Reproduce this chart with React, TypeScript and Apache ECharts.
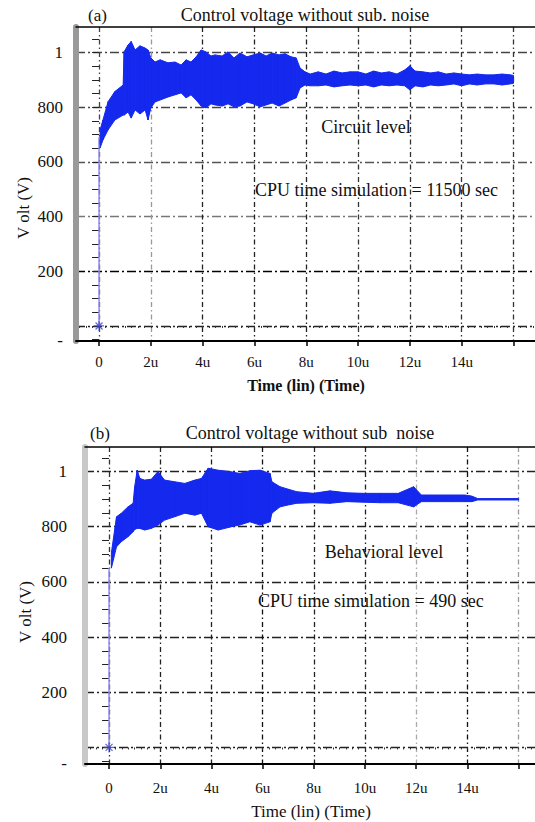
import React, { useEffect, useRef } from "react";
import * as echarts from "echarts";

// ---- axes (time in µs, voltage in mV) ----
const timeGrid = [0, 2, 4, 6, 8, 10, 12, 14, 16];
const timeLabels = [0, 2, 4, 6, 8, 10, 12, 14];
const voltGrid = [0, 200, 400, 600, 800, 1000];
const voltLabels = [200, 400, 600, 800, 1000];

// ---- panel (a): circuit level, noise envelope ----
const aT = [0.04, 0.15, 0.35, 0.61, 0.93, 0.97, 1.12, 1.24, 1.39, 1.58, 1.78, 1.89, 2.0, 2.16, 2.36, 2.66, 2.93, 3.17, 3.36, 3.55, 3.75, 3.94, 4.13, 4.32, 4.48, 4.75, 4.98, 5.21, 5.44, 5.71, 5.95, 6.22, 6.45, 6.68, 6.95, 7.18, 7.41, 7.61, 7.76, 7.95, 8.15, 8.46, 8.76, 9.07, 9.38, 9.69, 10.0, 10.3, 10.6, 10.9, 11.2, 11.5, 11.8, 12.0, 12.2, 12.5, 12.8, 13.1, 13.4, 13.7, 14.0, 14.3, 14.6, 14.9, 15.25, 15.56, 15.87, 16.0];
const aHi = [717, 753, 820, 857, 881, 1003, 1027, 1040, 1009, 1024, 1016, 1009, 980, 965, 973, 962, 965, 954, 973, 965, 984, 1009, 1002, 987, 991, 987, 1002, 980, 998, 984, 991, 998, 987, 998, 991, 995, 984, 980, 943, 929, 921, 929, 921, 932, 925, 929, 929, 921, 932, 925, 929, 921, 936, 951, 932, 929, 925, 929, 921, 925, 921, 918, 921, 918, 918, 921, 918, 916];
const aLo = [651, 680, 717, 753, 771, 771, 782, 760, 790, 775, 790, 753, 797, 819, 826, 837, 845, 852, 834, 845, 826, 804, 797, 812, 808, 804, 812, 801, 804, 819, 812, 801, 808, 815, 804, 815, 826, 834, 870, 881, 878, 878, 881, 874, 878, 881, 878, 881, 874, 881, 878, 881, 878, 863, 878, 874, 881, 878, 881, 885, 878, 885, 881, 885, 885, 881, 885, 887];
const aRiseV = [0, 690];

// ---- panel (b): behavioral level, noise envelope ----
const bT = [0.09, 0.29, 0.48, 0.74, 0.94, 1.0, 1.1, 1.2, 1.39, 1.65, 1.91, 2.17, 2.56, 2.96, 3.35, 3.61, 3.87, 4.26, 4.78, 5.1, 5.5, 5.9, 6.29, 6.36, 6.68, 7.0, 7.33, 7.98, 8.63, 9.28, 9.93, 10.6, 11.3, 11.9, 12.2, 12.8, 13.4, 13.9, 14.17, 14.4, 15.0, 15.5, 16.0];
const bHi = [705, 836, 849, 872, 885, 945, 1005, 975, 969, 972, 1000, 969, 963, 957, 969, 975, 1012, 1005, 999, 993, 1003, 1005, 993, 963, 945, 936, 927, 921, 930, 923, 921, 921, 921, 945, 915, 915, 915, 915, 911, 902, 902, 902, 902];
const bLo = [650, 727, 746, 764, 782, 790, 794, 794, 788, 794, 806, 824, 836, 849, 842, 849, 800, 788, 800, 806, 818, 806, 818, 849, 872, 879, 885, 887, 885, 891, 889, 887, 887, 872, 891, 891, 891, 891, 891, 897, 897, 897, 897];
const bRiseV = [0, 650];

const FONT = "Liberation Serif";
const BLUE = "#1428ee";

function minorValues(min: number, max: number, step: number) {
  const out: number[] = [];
  const start = Math.ceil(min / step) * step;
  for (let v = start; v <= max + 1e-9; v += step) out.push(Math.round(v * 1000) / 1000);
  return out;
}

interface PanelCfg {
  xMin: number; xMax: number; yMin: number; yMax: number;
  barColor: string; labelMargin: number; yLabelMargin: number;
  t: number[]; hi: number[]; lo: number[]; rise: number[];
  hColors: string[]; vColors: string[];
}

const panels: PanelCfg[] = [
  {
    xMin: -0.89, xMax: 16.83, yMin: -55, yMax: 1093,
    barColor: "#9a9a9a", labelMargin: 13, yLabelMargin: 13,
    t: aT, hi: aHi, lo: aLo, rise: aRiseV,
    hColors: ["#222", "#000", "#777", "#555", "#444", "#444"],
    vColors: ["#444", "#999", "#222", "#222", "#222", "#333", "#333", "#333", "#333"],
  },
  {
    xMin: -0.94, xMax: 16.64, yMin: -60, yMax: 1089,
    barColor: "#c8c8c8", labelMargin: 16, yLabelMargin: 18,
    t: bT, hi: bHi, lo: bLo, rise: bRiseV,
    hColors: ["#222", "#222", "#222", "#222", "#222", "#222"],
    vColors: ["#333", "#222", "#222", "#111", "#222", "#222", "#aaa", "#111", "#999"],
  },
];

function bandRenderItem(params: any, api: any) {
  const a = api.coord([api.value(0), api.value(1)]);
  const b = api.coord([api.value(3), api.value(4)]);
  const c = api.coord([api.value(3), api.value(5)]);
  const d = api.coord([api.value(0), api.value(2)]);
  return {
    type: "polygon",
    shape: { points: [a, b, c, d] },
    style: { fill: BLUE, stroke: BLUE, lineWidth: 1 },
  };
}

function buildOption() {
  const grid = [
    { left: 76, top: 27, width: 459, height: 314 },
    { left: 85, top: 447, width: 450, height: 317 },
  ];
  const xAxis: any[] = [];
  const yAxis: any[] = [];
  const series: any[] = [];
  panels.forEach((p, i) => {
    xAxis.push({
      type: "value", gridIndex: i, min: p.xMin, max: p.xMax, position: "bottom",
      axisLine: { show: true, onZero: false, lineStyle: { color: "#000", width: 2 } },
      axisTick: { show: true, customValues: timeGrid, length: 5, lineStyle: { color: "#000", width: 1.5 } },
      axisLabel: {
        customValues: timeLabels, margin: p.labelMargin, fontFamily: FONT, fontSize: 15, color: "#111",
        formatter: (v: number) => (v === 0 ? "0" : v + "u"),
      },
      splitLine: { show: true, lineStyle: { color: p.vColors, width: 1.3, type: [5, 3, 1.5, 3] } },
    });
    xAxis.push({
      type: "value", gridIndex: i, min: p.xMin, max: p.xMax, position: "bottom",
      axisLine: { show: false },
      axisTick: { show: true, customValues: minorValues(p.xMin, p.xMax, 0.25), length: 2, lineStyle: { color: "#333", width: 1 } },
      axisLabel: { show: false }, splitLine: { show: false },
    });
    xAxis.push({
      type: "value", gridIndex: i, min: p.xMin, max: p.xMax, position: "top",
      axisLine: { show: true, onZero: false, lineStyle: { color: "#000", width: 1.5 } },
      axisTick: { show: false }, axisLabel: { show: false }, splitLine: { show: false },
    });
    yAxis.push({
      type: "value", gridIndex: i, min: p.yMin, max: p.yMax, position: "left",
      axisLine: { show: true, onZero: false, lineStyle: { color: p.barColor, width: 6 } },
      axisTick: { show: false, customValues: voltGrid },
      axisLabel: {
        customValues: [p.yMin + 1, ...voltLabels], margin: p.yLabelMargin, fontFamily: FONT, fontSize: 17, color: "#111",
        formatter: (v: number) => (v === 1000 ? "1" : v < 0 ? "-" : String(v)),
      },
      splitLine: { show: true, lineStyle: { color: p.hColors, width: 1.3, type: [9, 3, 2, 3] } },
    });
    yAxis.push({
      type: "value", gridIndex: i, min: p.yMin, max: p.yMax, position: "left",
      axisLine: { show: false },
      axisTick: { show: true, customValues: minorValues(p.yMin, p.yMax, 50), length: 7, lineStyle: { color: "#222", width: 1 } },
      axisLabel: { show: false }, splitLine: { show: false },
    });
    const xi = i * 3;
    const yi = i * 2;
    const segs: number[][] = [];
    for (let k = 0; k < p.t.length - 1; k++) {
      segs.push([p.t[k], p.lo[k], p.hi[k], p.t[k + 1], p.lo[k + 1], p.hi[k + 1]]);
    }
    series.push({
      type: "custom", coordinateSystem: "cartesian2d", xAxisIndex: xi, yAxisIndex: yi, z: 3,
      renderItem: bandRenderItem,
      encode: { x: [0, 3], y: [1, 2, 4, 5] },
      data: segs,
    });
    series.push({
      type: "line", xAxisIndex: xi, yAxisIndex: yi, symbol: "none", z: 2,
      data: p.rise.map((v) => [0, v]),
      lineStyle: { color: "#8a8cef", width: 1.5 },
    });
    series.push({
      type: "scatter", xAxisIndex: xi, yAxisIndex: yi, z: 4,
      symbol: "path://M5,0L5,10M0,5L10,5M1.5,1.5L8.5,8.5M8.5,1.5L1.5,8.5",
      symbolSize: 10,
      data: [[0, p.rise[0]]],
      itemStyle: { color: "transparent", borderColor: "#3a44c8", borderWidth: 1.2 },
    });
  });

  const txt = (x: number, y: number, text: string, size: number, align = "center", extra: any = {}) => ({
    type: "text", x, y, z: 10, ...extra,
    style: { text, fontFamily: FONT, fontSize: size, fill: "#111", align, verticalAlign: "middle", ...(extra.style || {}) },
  });

  const graphic = [
    txt(88, 15, "(a)", 17, "left"),
    txt(305, 15, "Control voltage without sub. noise", 18),
    txt(366, 127, "Circuit level", 18),
    txt(255, 190, "CPU time simulation = 11500 sec", 18, "left"),
    txt(306, 385, "Time (lin) (Time)", 16, "center", { style: { fontWeight: "bold" } }),
    txt(23, 208, "V olt (V)", 17, "center", { rotation: Math.PI / 2 }),
    txt(90, 433, "(b)", 17, "left"),
    txt(310, 433, "Control voltage without sub  noise", 18),
    txt(384, 552, "Behavioral level", 18),
    txt(258, 601, "CPU time simulation = 490 sec", 18, "left"),
    txt(311, 811, "Time (lin) (Time)", 17),
    txt(25, 612, "V olt (V)", 17, "center", { rotation: Math.PI / 2 }),
  ];

  return { animation: false, backgroundColor: "#fff", grid, xAxis, yAxis, series, graphic };
}

export default function App() {
  const ref = useRef<HTMLDivElement>(null);
  useEffect(() => {
    if (!ref.current) return;
    const chart = echarts.init(ref.current, undefined, { renderer: "svg" });
    chart.setOption(buildOption() as any);
    return () => chart.dispose();
  }, []);
  return (
    <div
      ref={ref}
      style={{ position: "fixed", left: 0, top: 0, width: 535, height: 822, background: "#fff" }}
    />
  );
}
